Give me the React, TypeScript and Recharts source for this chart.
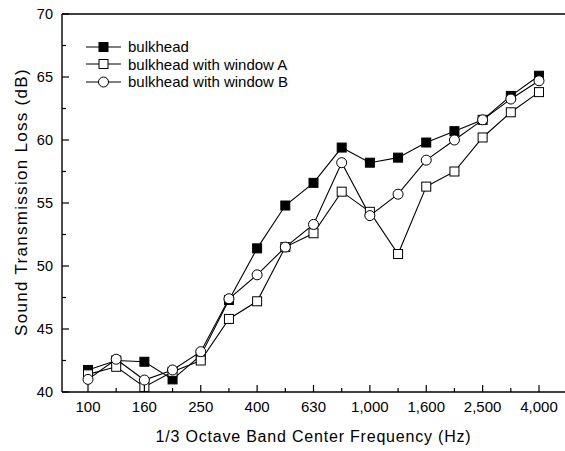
import React from 'react';
import { LineChart, Line, XAxis, YAxis, ReferenceLine, Legend } from 'recharts';

const bands = ['100', '125', '160', '200', '250', '315', '400', '500', '630', '800', '1,000', '1,250', '1,600', '2,000', '2,500', '3,150', '4,000'];
const bulkhead = [41.75, 42.5, 42.4, 41.0, 42.9, 47.3, 51.4, 54.8, 56.6, 59.4, 58.2, 58.6, 59.8, 60.7, 61.6, 63.5, 65.1];
const windowA = [41.4, 42.0, 40.4, 41.6, 42.5, 45.8, 47.2, 51.5, 52.6, 55.9, 54.3, 50.95, 56.3, 57.5, 60.2, 62.2, 63.8];
const windowB = [41.0, 42.6, 40.95, 41.75, 43.2, 47.4, 49.3, 51.5, 53.3, 58.2, 54.0, 55.7, 58.4, 60.0, 61.6, 63.25, 64.7];
const yTicks = [40, 42.5, 45, 47.5, 50, 52.5, 55, 57.5, 60, 62.5, 65, 67.5, 70];
const seriesNames = ['bulkhead', 'bulkhead with window A', 'bulkhead with window B'];

const data = bands.map((b, i) => ({ band: b, bulkhead: bulkhead[i], windowA: windowA[i], windowB: windowB[i] }));

const FONT = '"Liberation Sans", Arial, sans-serif';

const FilledSquare = (props: any) => {
  const { cx, cy, index } = props;
  if (cx == null || cy == null) return <g key={index} />;
  return <rect key={index} x={cx - 4.5} y={cy - 4.5} width={9} height={9} fill="#000" stroke="#000" strokeWidth={1} />;
};
const OpenSquare = (props: any) => {
  const { cx, cy, index } = props;
  if (cx == null || cy == null) return <g key={index} />;
  return <rect key={index} x={cx - 4.5} y={cy - 4.5} width={9} height={9} fill="#fff" stroke="#000" strokeWidth={1} />;
};
const OpenCircle = (props: any) => {
  const { cx, cy, index } = props;
  if (cx == null || cy == null) return <g key={index} />;
  return <circle key={index} cx={cx} cy={cy} r={5} fill="#fff" stroke="#000" strokeWidth={1} />;
};

const XTick = (props: any) => {
  const { x, y, index, payload } = props;
  const major = index % 2 === 0;
  return (
    <g>
      <line x1={x} x2={x} y1={y} y2={y - (major ? 7 : 4)} stroke="#000" strokeWidth={1.2} />
      {major && (
        <text x={x} y={y + 20} textAnchor="middle" fontSize={15} fontFamily={FONT} fill="#000">
          {payload.value}
        </text>
      )}
    </g>
  );
};

const YTick = (props: any) => {
  const { x, y, payload } = props;
  const major = payload.value % 5 === 0;
  return (
    <g>
      <line x1={x} x2={x + (major ? 7 : 4)} y1={y} y2={y} stroke="#000" strokeWidth={1.2} />
      {major && (
        <text x={x - 9} y={y + 5} textAnchor="end" fontSize={14.5} fontFamily={FONT} fill="#000">
          {payload.value}
        </text>
      )}
    </g>
  );
};

const LegendContent = () => {
  const markers = [
    <rect x={10} y={2.5} width={9} height={9} fill="#000" stroke="#000" />,
    <rect x={10} y={2.5} width={9} height={9} fill="#fff" stroke="#000" />,
    <circle cx={14.5} cy={7} r={5} fill="#fff" stroke="#000" />,
  ];
  return (
    <div style={{ fontFamily: FONT, fontSize: 15, color: '#000' }}>
      {seriesNames.map((n, i) => (
        <div key={n} style={{ display: 'flex', alignItems: 'center', height: 17.5 }}>
          <svg width={40} height={14} style={{ marginRight: 4 }}>
            <line x1={2} x2={37} y1={7} y2={7} stroke="#000" strokeWidth={1} />
            <g transform="translate(5,0)">{markers[i]}</g>
          </svg>
          <span>{n}</span>
        </div>
      ))}
    </div>
  );
};

export default function App() {
  return (
    <div style={{ position: 'absolute', left: 0, top: 0, width: 565, height: 451, background: '#fff' }}>
      <LineChart width={565} height={451} data={data} margin={{ top: 14, right: 0, bottom: 0, left: 0 }}>
        <XAxis
          dataKey="band"
          height={59}
          interval={0}
          padding={{ left: 26, right: 26 }}
          tickSize={0}
          tickMargin={0}
          tickLine={false}
          tick={<XTick />}
          axisLine={{ stroke: '#000', strokeWidth: 1.4 }}
          label={{
            content: (p: any) => {
              const vb = p.viewBox;
              return (
                <text x={vb.x + vb.width / 2} y={vb.y + 50} textAnchor="middle" fontSize={16} letterSpacing={0.8} fontFamily={FONT} fill="#000">
                  1/3 Octave Band Center Frequency (Hz)
                </text>
              );
            },
          }}
        />
        <YAxis
          width={62}
          domain={[40, 70]}
          ticks={yTicks}
          interval={0}
          tickSize={0}
          tickMargin={0}
          tickLine={false}
          tick={<YTick />}
          axisLine={{ stroke: '#000', strokeWidth: 1.4 }}
          label={{
            content: (p: any) => {
              const vb = p.viewBox;
              const cx = 21;
              const cy = vb.y + vb.height / 2 - 1;
              return (
                <text x={cx} y={cy} transform={`rotate(-90, ${cx}, ${cy})`} textAnchor="middle" dominantBaseline="central" fontSize={17} letterSpacing={1.3} fontFamily={FONT} fill="#000">
                  Sound Transmission Loss (dB)
                </text>
              );
            },
          }}
        />
        <ReferenceLine y={70} stroke="#000" strokeWidth={1.4} />
        <Legend
          layout="horizontal"
          verticalAlign="middle"
          align="center"
          content={<LegendContent />}
          wrapperStyle={{ position: 'absolute', left: 84, top: 38, width: 280, height: 60 }}
        />
        <Line type="linear" dataKey="bulkhead" name={seriesNames[0]} stroke="#000" strokeWidth={1.1} dot={FilledSquare} isAnimationActive={false} />
        <Line type="linear" dataKey="windowA" name={seriesNames[1]} stroke="#000" strokeWidth={1.1} dot={OpenSquare} isAnimationActive={false} />
        <Line type="linear" dataKey="windowB" name={seriesNames[2]} stroke="#000" strokeWidth={1.1} dot={OpenCircle} isAnimationActive={false} />
      </LineChart>
    </div>
  );
}
